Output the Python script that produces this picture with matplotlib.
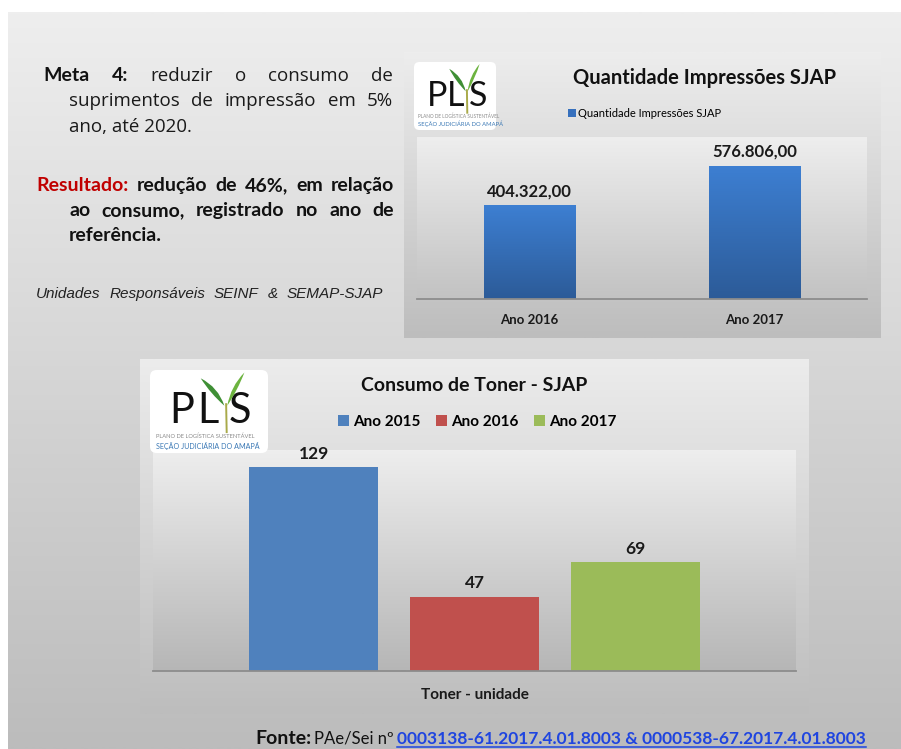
import matplotlib
matplotlib.use("Agg")
import matplotlib.pyplot as plt
import numpy as np
from matplotlib.colors import to_rgb
from matplotlib.patches import FancyBboxPatch, PathPatch
from matplotlib.path import Path

W, H = 901, 749

# Data
imp_labels = ["Ano 2016", "Ano 2017"]
imp_values = [404322.00, 576806.00]
imp_name = "Quantidade Impressões SJAP"

toner_series = ["Ano 2015", "Ano 2016", "Ano 2017"]
toner_values = [129, 47, 69]
toner_colors = ["#4f81bd", "#c0504d", "#9bbb59"]
toner_category = "Toner - unidade"

fig = plt.figure(figsize=(W / 100, H / 100), dpi=100, facecolor="white")
bg = fig.add_axes([0, 0, 1, 1])
bg.axis("off")
rend = fig.canvas.get_renderer()


def vgrad(ax, x0, x1, y0, y1, top, bot, z=0):
    t = np.linspace(0, 1, 200)[:, None, None]
    arr = np.array(to_rgb(top)) * (1 - t) + np.array(to_rgb(bot)) * t
    return ax.imshow(arr, extent=(x0, x1, y1, y0), aspect="auto",
                     interpolation="bilinear", zorder=z)


# slide and panel backgrounds
vgrad(bg, 8, W, 12, H, "#eeeeee", "#bcbcbc", 0)
vgrad(bg, 404, 881, 52, 338, "#ededed", "#bdbdbd", 1)
vgrad(bg, 417, 867, 137, 299, "#eeeeee", "#c2c2c2", 2)
vgrad(bg, 140, 809, 359, 714, "#ececec", "#bdbdbd", 1)
vgrad(bg, 153, 796, 450, 671, "#eeeeee", "#b6b6b6", 2)
bg.set_xlim(0, W)
bg.set_ylim(H, 0)


def leaf(bx, by, tx, ty, bulge, color):
    B = np.array([bx, by]); T = np.array([tx, ty])
    d = T - B
    n = np.array([-d[1], d[0]]) / np.hypot(*d)
    M = (B + T) / 2
    verts = [B, M + n * bulge, T, M - n * bulge * 0.35, B, B]
    codes = [Path.MOVETO, Path.CURVE3, Path.CURVE3, Path.CURVE3, Path.CURVE3, Path.CLOSEPOLY]
    bg.add_patch(PathPatch(Path(verts, codes), fc=color, ec="none", zorder=4))


def logo(x0, y0, x1, y1):
    w, h = x1 - x0, y1 - y0
    box = FancyBboxPatch((x0, y0), w, h, boxstyle="round,pad=0,rounding_size=%f" % (0.08 * h),
                         fc="white", ec="none", zorder=3)
    bg.add_patch(box)
    fs = 0.36 * h
    for ch, rx in (("P", 0.16), ("L", 0.40), ("S", 0.665)):
        bg.text(x0 + rx * w, y0 + 0.64 * h, ch, ha="left", va="baseline", fontsize=fs,
                family="Lato", color="#111111", zorder=4)
    bg.plot([x0 + 0.645 * w, x0 + 0.65 * w], [y0 + 0.40 * h, y0 + 0.76 * h],
            color="#a9aa4a", lw=1.4, zorder=4, solid_capstyle="butt")
    leaf(x0 + 0.63 * w, y0 + 0.43 * h, x0 + 0.43 * w, y0 + 0.10 * h, 0.09 * h, "#3f8f35")
    leaf(x0 + 0.655 * w, y0 + 0.43 * h, x0 + 0.80 * w, y0 + 0.03 * h, -0.07 * h, "#6cb33f")
    t1 = bg.text(x0 + 0.05 * w, y0 + 0.80 * h, "PLANO DE LOGÍSTICA SUSTENTÁVEL", fontsize=0.05 * h,
                 family="Lato", color="#8a8a8a", va="center", zorder=4)
    t2 = bg.text(x0 + 0.05 * w, y0 + 0.915 * h, "SEÇÃO JUDICIÁRIA DO AMAPÁ", fontsize=0.062 * h,
                 family="Lato", color="#3a78b5", va="center", zorder=4)
    for t in (t1, t2):
        t.set_clip_path(box)


logo(414, 62, 496, 130)
logo(150, 370, 268, 453)


def put_line(x0, y, parts, x1=None, gaps=None):
    arts = [bg.text(x0, y, s, ha="left", va="baseline", zorder=5, **kw) for s, kw in parts]
    ws = [a.get_window_extent(renderer=rend).width for a in arts]
    if x1 is not None and len(arts) > 1:
        g = (x1 - x0 - sum(ws)) / (len(arts) - 1)
        gaps = [g] * len(arts)
    x = x0
    for a, w, g in zip(arts, ws, gaps):
        a.set_x(x)
        x += w + g
    return arts


REG = dict(family="Open Sans", fontsize=13.5, color="#1a1a1a")
BLD = dict(family="Lato", fontsize=14, fontweight="bold", color="#111111")
RED = dict(BLD, color="#c00000")
ITA = dict(family="Liberation Sans", fontsize=11, style="italic", color="#222222")

put_line(43, 81, [("Meta", BLD), ("4:", BLD)] + [(w, REG) for w in "reduzir o consumo de".split()], x1=393)
put_line(69, 106, [(w, REG) for w in "suprimentos de impressão em 5%".split()], x1=393)
bg.text(69, 132, "ano, até 2020.", ha="left", va="baseline", zorder=5, **REG)
put_line(36, 191, [("Resultado:", RED)] + [(w, BLD) for w in "redução de 46%, em relação".split()], x1=394)
put_line(69, 216, [(w, BLD) for w in "ao consumo, registrado no ano de".split()], x1=394)
bg.text(69, 241, "referência.", ha="left", va="baseline", zorder=5, **BLD)
put_line(36, 298, [(w, ITA) for w in "Unidades Responsáveis SEINF & SEMAP-SJAP".split()], x1=383)

# footer
FB = dict(family="Lato", fontsize=14, fontweight="bold", color="#111111")
FR = dict(family="Lato", fontsize=12, color="#111111")
FL = dict(family="Lato", fontsize=12.5, fontweight="bold", color="#1f45e0")
foot = put_line(255, 744, [("Fonte:", FB), ("PAe/Sei nº", FR),
                           ("0003138-61.2017.4.01.8003 & 0000538-67.2017.4.01.8003", FL)],
                gaps=[3, 3, 0])
lk = foot[-1].get_window_extent(renderer=rend)
bg.plot([lk.x0, lk.x1], [747, 747], color="#1f45e0", lw=1.1, zorder=5)


def px_axes(x0, x1, y0, y1):
    a = fig.add_axes([x0 / W, 1 - y1 / H, (x1 - x0) / W, (y1 - y0) / H])
    a.patch.set_alpha(0)
    for s in ("top", "right", "left"):
        a.spines[s].set_visible(False)
    a.spines["bottom"].set_color("#8c8c8c")
    a.spines["bottom"].set_linewidth(1.3)
    a.set_yticks([])
    a.tick_params(axis="x", length=0)
    return a


def br(v):
    return f"{v:,.2f}".replace(",", "X").replace(".", ",").replace("X", ".")


# chart 1: impressions
ax1 = px_axes(417, 867, 137, 299)
xi = np.arange(len(imp_values))
bars1 = ax1.bar(xi, imp_values, width=0.405, color="#3670bd", label=imp_name, zorder=2)
t = np.linspace(0, 1, 100)[:, None, None]
barg = np.array(to_rgb("#3d7fd2")) * (1 - t) + np.array(to_rgb("#2c5b98")) * t
for b in bars1:
    im = ax1.imshow(barg, extent=(b.get_x(), b.get_x() + b.get_width(), 0, b.get_height()),
                    aspect="auto", zorder=2.5, interpolation="bilinear")
    im.set_clip_path(b)
ax1.set_xlim(-0.5, 1.5)
ax1.set_ylim(0, 700000)
ax1.bar_label(bars1, labels=[br(v) for v in imp_values], padding=4, fontsize=12,
              fontweight="bold", family="Lato", color="#1a1a1a")
ax1.set_xticks(xi, imp_labels, fontsize=9.5, fontweight="bold", family="Lato", color="#1a1a1a")
ax1.tick_params(axis="x", pad=11)
ax1.text(0.64, 1.364, imp_name, transform=ax1.transAxes, ha="center", va="center",
         fontsize=14.5, fontweight="bold", family="Lato", color="#111111")
ax1.legend(loc="center", bbox_to_anchor=(0.506, 1.148), frameon=False,
           prop=dict(family="Lato", size=8), handlelength=0.7, handleheight=0.7,
           handletextpad=0.2, borderpad=0, borderaxespad=0)

# chart 2: toner
ax2 = px_axes(153, 796, 450, 671)
offs = (np.arange(len(toner_values)) - 1) * 0.25
for i in range(len(toner_values)):
    bb = ax2.bar(offs[i], toner_values[i], width=0.2, color=toner_colors[i],
                 label=toner_series[i], zorder=2)
    ax2.bar_label(bb, padding=4, fontsize=12.5, fontweight="bold", family="Lato", color="#1a1a1a")
ax2.set_xlim(-0.5, 0.5)
ax2.set_ylim(0, 140)
ax2.set_xticks([0], [toner_category], fontsize=11, fontweight="bold", family="Lato", color="#1a1a1a")
ax2.tick_params(axis="x", pad=12)
ax2.text(0.5, 1.294, "Consumo de Toner - SJAP", transform=ax2.transAxes, ha="center", va="center",
         fontsize=14, fontweight="bold", family="Lato", color="#111111")
ax2.legend(loc="center", bbox_to_anchor=(0.504, 1.127), frameon=False, ncol=3,
           prop=dict(family="Lato", size=11, weight="bold"), handlelength=0.75, handleheight=0.75,
           handletextpad=0.25, columnspacing=1.0, borderpad=0, borderaxespad=0)

fig.savefig("out.png", dpi=100)
